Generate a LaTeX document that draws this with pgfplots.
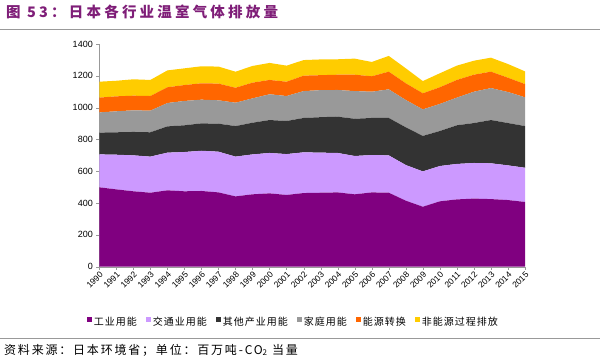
\documentclass[border=0pt]{standalone}
\usepackage{fontspec}
\setmainfont{Liberation Sans}
\newfontfamily\cjktitle[LetterSpace=22]{Noto Sans CJK SC}
\newfontfamily\cjk[LetterSpace=10]{Noto Sans CJK SC}
\newfontfamily\cjksrc[LetterSpace=15]{Noto Sans CJK SC}
\usepackage{pgfplots}
\pgfplotsset{compat=1.18}
\usepackage{pgfplotstable}
\definecolor{cind}{HTML}{800080}
\definecolor{ctrans}{HTML}{CC99FF}
\definecolor{cother}{HTML}{333333}
\definecolor{chome}{HTML}{999999}
\definecolor{cenergy}{HTML}{FF6600}
\definecolor{cnon}{HTML}{FFCC00}
\definecolor{titlecol}{HTML}{7F1E78}
\pgfplotstableread{
year ind trans other home energy nonen
1990 499 207 137 127 93 100
1991 486 218 141 132 94 98
1992 474 226 147 136 92 103
1993 465 227 153 136 92 101
1994 480 237 165 147 99 106
1995 474 247 168 153 100 105
1996 476 253 172 149 103 107
1997 467 256 176 147 105 107
1998 442 250 192 147 94 101
1999 455 251 199 153 99 105
2000 461 254 207 162 90 107
2001 451 257 208 157 90 101
2002 463 256 216 169 97 98
2003 465 252 223 170 94 99
2004 467 248 228 168 96 97
2005 455 241 234 174 103 101
2006 467 235 233 165 97 90
2007 465 235 235 180 111 99
2008 415 224 237 172 105 94
2009 377 222 223 167 101 77
2010 411 222 220 170 105 88
2011 423 223 243 174 111 90
2012 428 224 251 197 107 88
2013 425 225 272 201 103 88
2014 419 218 266 195 90 86
2015 407 215 262 181 83 80
}\datatable
\begin{document}
\begin{tikzpicture}
\path[use as bounding box] (0pt,0pt) rectangle (600pt,360pt);
\node[anchor=west, text=titlecol, font=\cjktitle\bfseries\fontsize{14.5}{16}\selectfont, inner sep=0pt] at (6pt,348.5pt) {图 53：日本各行业温室气体排放量};
\draw[gray!80, line width=1pt] (0pt,330.5pt) -- (600pt,330.5pt);
\draw[gray!80, line width=1pt] (0pt,22pt) -- (600pt,22pt);
\node[anchor=west, font=\cjksrc\fontsize{12}{14}\selectfont, inner sep=0pt] at (4pt,10pt) {资料来源：日本环境省；单位：百万吨-CO\textsubscript{2} 当量};
\begin{axis}[
  at={(99.3pt,93.3pt)}, anchor=south west,
  scale only axis, width=425.7pt, height=222.7pt,
  xmin=1990, xmax=2015, ymin=0, ymax=1400,
  stack plots=y,
  axis x line*=bottom, axis y line*=left,
  axis line style={draw=gray!80, -},
  xtick={1990,...,2015}, ytick={0,200,...,1400},
  tick align=outside, major tick length=3pt,
  tick style={gray!80},
  /pgf/number format/1000 sep={},
  /pgf/number format/assume math mode=true,
  xticklabel style={font=\fontsize{8.5}{9}\selectfont, rotate=45, anchor=north east, inner sep=1pt},
  yticklabel style={font=\fontsize{9}{10}\selectfont},
  legend columns=6,
  legend style={at={(0.456,-0.248)}, anchor=center, draw=none, font=\cjk\fontsize{10}{12}\selectfont, /tikz/every even column/.append style={column sep=7pt}, inner sep=0pt},
  legend cell align=left,
  legend image code/.code={\fill[#1] (0pt,-0.5pt) rectangle (5pt,4.5pt);},
  every axis plot/.append style={draw=none},
]
\addplot[fill=cind] table[x=year,y=ind]{\datatable} \closedcycle;
\addlegendentry{工业用能}
\addplot[fill=ctrans] table[x=year,y=trans]{\datatable} \closedcycle;
\addlegendentry{交通业用能}
\addplot[fill=cother] table[x=year,y=other]{\datatable} \closedcycle;
\addlegendentry{其他产业用能}
\addplot[fill=chome] table[x=year,y=home]{\datatable} \closedcycle;
\addlegendentry{家庭用能}
\addplot[fill=cenergy] table[x=year,y=energy]{\datatable} \closedcycle;
\addlegendentry{能源转换}
\addplot[fill=cnon] table[x=year,y=nonen]{\datatable} \closedcycle;
\addlegendentry{非能源过程排放}
\end{axis}
\end{tikzpicture}
\end{document}
